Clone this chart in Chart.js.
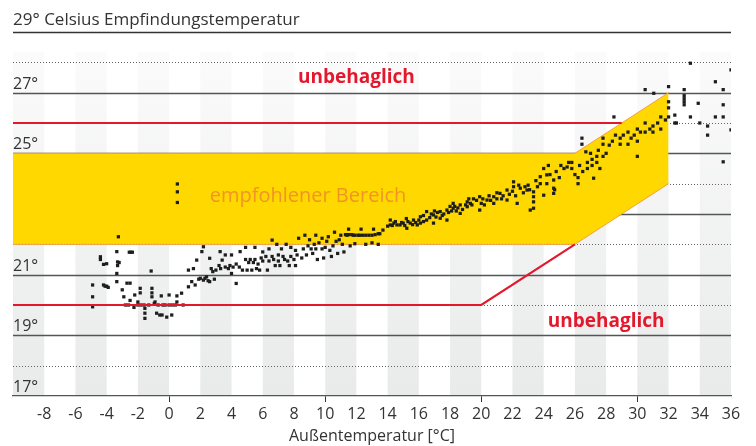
<!DOCTYPE html>
<html lang="de">
<head>
<meta charset="utf-8">
<title>Empfindungstemperatur</title>
<script src="https://cdn.jsdelivr.net/npm/chart.js@4.4.1/dist/chart.umd.min.js"></script>
<style>
  html, body { margin: 0; padding: 0; background: #fff; }
  #wrap { position: relative; width: 756px; height: 446px; }
</style>
</head>
<body>
<div id="wrap"><canvas id="chart"></canvas></div>
<script>
// Messwerte: [Außentemperatur, Empfindungstemperatur] in °C
const readings = [
  [-4.9, 20.66], [-4.9, 20.27], [-4.9, 19.94], [-4.4, 21.59], [-4.4, 21.5], [-4.2, 21.34], [-4.0, 21.36],
  [-4.2, 20.66], [-4.0, 20.62], [-3.9, 20.58], [-3.35, 21.76], [-3.3, 21.42], [-3.3, 21.3], [-3.35, 21.04],
  [-3.25, 22.25], [-2.55, 21.74], [-2.35, 21.74], [-3.35, 20.77], [-2.7, 20.72], [-2.5, 20.72],
  [-3.0, 20.5], [-2.9, 20.27], [-2.8, 20.0], [-2.6, 20.0], [-2.5, 20.15], [-2.2, 20.33], [-2.0, 20.1], [-2.25, 19.92],
  [-1.85, 20.55], [-1.85, 20.4], [-1.55, 19.89], [-1.55, 19.73], [-1.55, 19.56], [-1.15, 21.12],
  [-1.1, 20.55], [-1.1, 20.4], [-1.1, 20.27], [-0.9, 20.1], [-0.8, 19.73], [-0.6, 19.67], [-0.45, 19.67],
  [-0.15, 19.6], [-1.8, 20.0], [-1.3, 20.0], [-0.95, 20.05], [-0.25, 20.0], [0.0, 20.0], [0.0, 20.33],
  [0.17, 19.67], [0.4, 20.0], [-0.5, 20.3],
  [-0.7, 20.0], [-0.4, 20.0], [0.2, 20.0], [-2.0, 20.0], [-1.6, 20.0], [-4.1, 20.62], [-3.2, 21.4], [-2.45, 21.74],
  [0.53, 23.99], [0.53, 23.73], [0.53, 23.38],
  [0.5, 20.1], [0.5, 20.3], [0.8, 20.39], [0.9, 20.0], [1.24, 20.6], [1.24, 21.15], [1.45, 20.77], [1.56, 21.2], [1.67, 20.66], [1.77, 21.48],
  [2.0, 20.88], [2.1, 21.76], [2.2, 21.92], [2.3, 20.88], [2.4, 20.93], [2.6, 20.77], [2.6, 21.54], [2.7, 21.2], [2.9, 20.85],
  [1.9, 20.85], [2.2, 20.82], [2.5, 20.8], [2.8, 21.1], [3.0, 21.15], [3.3, 21.2], [3.8, 21.2], [4.1, 21.25], [4.5, 21.25],
  [3.2, 21.3], [3.27, 21.76], [3.4, 21.48], [3.6, 21.65], [3.6, 21.25], [3.9, 21.3], [4.0, 21.65], [4.0, 21.04], [4.3, 20.71], [4.3, 21.35],
  [4.55, 21.76], [4.7, 21.15], [4.9, 21.5], [4.9, 21.9], [5.0, 21.15], [5.2, 21.5], [5.3, 21.15], [5.5, 21.9], [5.5, 21.5], [5.6, 21.2],
  [5.1, 21.4], [5.4, 21.4], [5.7, 21.35], [6.0, 21.45], [6.4, 21.45], [6.7, 21.5], [7.0, 21.45], [7.4, 21.5], [7.8, 21.6], [8.2, 21.65],
  [5.8, 21.15], [5.9, 21.55], [6.2, 21.6], [6.3, 21.15], [6.6, 22.14], [6.6, 21.6], [6.8, 21.3], [6.9, 22.0], [7.0, 21.65], [7.1, 21.3],
  [7.3, 21.6], [7.5, 22.0], [7.6, 21.45], [7.7, 21.3], [8.0, 21.5], [8.1, 21.3], [8.1, 21.8],
  [6.0, 21.75], [6.4, 21.85], [7.2, 21.85], [7.8, 21.9], [8.6, 21.85],
  [8.3, 22.2], [8.5, 21.55], [8.7, 22.3], [8.8, 21.65], [9.0, 22.15], [9.1, 21.85], [9.2, 21.7], [9.4, 22.3], [9.4, 21.85], [9.5, 21.5],
  [9.8, 22.2], [9.8, 21.85], [9.9, 21.55], [10.2, 22.25], [10.3, 21.8], [10.4, 21.6], [10.6, 22.4], [10.7, 22.1], [10.8, 21.7],
  [8.9, 21.95], [9.3, 22.0], [9.6, 22.05], [10.0, 21.9], [10.1, 22.1], [10.5, 21.95], [10.9, 22.15],
  [11.0, 22.3], [11.1, 22.0], [11.2, 21.75], [11.4, 22.3], [11.5, 22.5], [11.6, 21.95], [11.8, 22.3], [11.9, 22.02], [12.2, 22.3], [12.3, 22.5],
  [12.6, 22.3], [12.6, 22.0], [13.0, 22.3], [13.1, 22.5], [13.0, 22.05], [13.4, 22.35], [13.4, 22.0], [13.7, 22.47],
  [11.3, 22.32], [11.5, 22.32], [11.7, 22.32], [11.9, 22.3], [12.1, 22.3], [12.4, 22.3], [12.8, 22.3], [13.2, 22.32], [13.5, 22.35],
  [14.17, 22.64], [14.17, 22.8], [14.4, 22.7], [14.6, 22.64], [14.8, 22.64], [15.0, 22.7], [15.2, 22.85], [15.23, 22.53], [15.45, 22.7],
  [15.66, 22.8], [15.9, 22.64], [16.1, 22.91], [16.1, 22.7], [16.3, 22.95], [16.5, 22.8], [16.5, 23.08], [16.94, 22.7], [16.94, 22.97], [17.0, 23.1],
  [14.0, 22.6], [14.3, 22.62], [14.5, 22.75], [14.9, 22.72], [15.1, 22.62], [15.3, 22.75], [15.6, 22.65], [15.8, 22.72], [16.0, 22.8],
  [16.3, 22.75], [16.7, 22.88], [16.8, 23.0], [17.1, 22.9], [17.2, 23.05], [17.5, 22.95], [17.9, 23.05],
  [17.37, 23.08], [17.37, 22.86], [17.6, 23.0], [17.8, 23.13], [17.8, 22.8], [18.0, 23.25], [18.2, 23.19], [18.2, 23.35], [18.4, 23.1],
  [18.65, 23.3], [18.65, 23.02], [19.1, 23.4], [19.1, 23.24], [19.3, 23.35], [19.5, 23.5], [19.9, 23.57], [19.9, 23.13], [20.0, 23.35],
  [18.1, 23.1], [18.3, 23.25], [18.5, 23.2], [18.8, 23.15], [19.0, 23.3], [19.2, 23.5], [19.4, 23.3], [19.7, 23.45],
  [20.37, 23.46], [20.5, 23.6], [20.8, 23.57], [20.8, 23.35], [21.0, 23.5], [21.2, 23.68], [21.4, 23.6], [21.65, 23.79], [21.65, 23.46],
  [20.1, 23.5], [20.2, 23.3], [20.6, 23.45], [21.0, 23.7], [21.3, 23.5], [21.8, 23.65], [22.0, 23.75], [22.2, 23.6], [22.4, 23.95],
  [22.07, 23.9], [22.07, 24.06], [22.3, 23.35], [22.5, 23.85], [22.7, 23.7], [22.93, 23.79], [23.0, 23.95], [23.14, 23.13],
  [22.8, 23.9], [23.1, 23.8], [23.5, 24.1], [23.6, 23.9], [24.3, 24.6], [24.8, 24.4], [25.0, 24.2],
  [23.35, 23.73], [23.35, 23.57], [23.35, 23.4], [23.35, 23.19], [23.78, 24.23], [23.78, 24.0], [24.0, 23.62], [24.0, 24.5],
  [24.2, 24.29], [24.2, 24.0], [24.4, 24.3], [24.64, 24.12], [24.64, 23.85], [24.64, 23.68], [24.7, 23.8],
  [25.1, 24.6], [25.3, 24.5], [25.5, 24.55], [25.8, 24.7], [25.8, 24.5], [26.0, 24.3], [26.2, 24.2], [26.2, 24.0],
  [25.6, 24.7], [26.3, 24.6], [26.5, 24.4], [27.0, 25.0], [27.5, 25.1], [28.0, 25.0], [28.4, 25.4], [28.6, 25.6],
  [26.45, 25.3], [26.45, 25.5], [26.7, 25.05], [26.8, 24.5], [26.8, 24.7], [27.1, 24.6], [27.1, 24.8], [27.2, 24.18], [27.4, 24.7], [27.4, 24.9],
  [27.6, 24.5], [27.8, 25.3], [27.8, 25.5], [27.8, 24.9], [28.2, 25.27], [28.5, 26.2], [28.9, 25.3], [28.9, 25.5],
  [29.1, 25.6], [29.8, 25.6], [30.2, 25.7], [30.8, 25.8], [31.3, 26.0], [31.8, 26.1],
  [29.4, 25.3], [29.4, 25.7], [29.6, 25.5], [30.0, 25.4], [30.0, 25.8], [30.0, 24.9], [30.5, 25.7], [30.5, 26.0], [30.5, 27.1],
  [31.0, 25.7], [31.0, 25.9], [31.05, 26.98], [31.5, 25.8], [31.5, 26.2], [32.0, 27.2], [32.0, 26.7], [32.0, 26.5], [32.0, 26.2],
  [32.4, 26.26], [32.4, 26.0], [32.5, 26.0], [33.0, 27.1], [33.0, 26.9], [33.0, 26.8], [33.0, 26.7], [33.0, 26.6], [33.4, 26.2], [33.4, 27.97], [33.9, 26.65],
  [34.0, 26.0], [34.5, 25.9], [34.5, 25.6], [35.0, 27.36], [35.0, 26.2], [35.5, 27.1], [35.5, 26.6], [35.5, 26.2], [35.5, 24.72],
  [36.0, 27.75], [36.0, 25.77]
];

// empfohlener Bereich (Ober- und Unterkante) und Behaglichkeitsgrenzen
const comfortBottom = [[-10, 22], [26, 22], [32, 24]];
const comfortTop = [[-10, 25], [26, 25], [32, 27]];
const upperLimit = [[-10, 26], [29, 26]];
const lowerLimit = [[-10, 20], [20, 20], [26, 22]];

const yLabels = [17, 19, 21, 23, 25, 27];
const xRange = [-10, 36];
const yRange = [17, 29];

const FONT = '"Open Sans", sans-serif';
const RED = '#e3182d';
const toXY = pts => pts.map(([x, y]) => ({ x, y }));

// Hintergrund: graue Streifen, Rasterlinien, Achsbeschriftung links, Titel
const backdrop = {
    id: 'backdrop',
    beforeDraw(chart) {
        const { ctx, chartArea: a, scales: { x, y } } = chart;
        ctx.save();
        const bandTop = y.getPixelForValue(28.35);
        const grad = ctx.createLinearGradient(0, bandTop, 0, a.bottom);
        grad.addColorStop(0, '#fbfbfb');
        grad.addColorStop(1, '#e9eaea');
        ctx.fillStyle = grad;
        for (let v = xRange[0]; v < xRange[1]; v += 4) {
            const l = x.getPixelForValue(v), r = x.getPixelForValue(v + 2);
            ctx.fillRect(l, bandTop, r - l, a.bottom - bandTop);
        }
        for (let v = yRange[0] + 1; v <= yRange[1]; v++) {
            const py = Math.round(y.getPixelForValue(v)) + 0.5;
            ctx.beginPath();
            if (v % 2) {
                ctx.setLineDash([]);
                ctx.strokeStyle = v === yRange[1] ? '#333' : '#555';
                ctx.lineWidth = 1.3;
            } else {
                ctx.setLineDash([1, 2]);
                ctx.strokeStyle = '#666';
                ctx.lineWidth = 1;
            }
            ctx.moveTo(a.left, py);
            ctx.lineTo(a.right, py);
            ctx.stroke();
        }
        ctx.setLineDash([]);
        ctx.fillStyle = '#333';
        ctx.textAlign = 'left';
        ctx.textBaseline = 'alphabetic';
        ctx.font = '16px ' + FONT;
        yLabels.forEach(v => ctx.fillText(v + '°', a.left, y.getPixelForValue(v) - 4));
        ctx.font = '17px ' + FONT;
        ctx.fillText('29° Celsius Empfindungstemperatur', a.left, y.getPixelForValue(yRange[1]) - 7);
        ctx.restore();
    },
    afterDatasetsDraw(chart) {
        const { ctx, scales: { x, y } } = chart;
        ctx.save();
        ctx.textAlign = 'center';
        ctx.textBaseline = 'middle';
        ctx.font = 'bold 19px ' + FONT;
        ctx.fillStyle = RED;
        ctx.fillText('unbehaglich', x.getPixelForValue(12), y.getPixelForValue(27.5));
        ctx.fillText('unbehaglich', x.getPixelForValue(28), y.getPixelForValue(19.45));
        ctx.font = '20px ' + FONT;
        ctx.fillStyle = '#f39325';
        ctx.fillText('empfohlener Bereich', x.getPixelForValue(8.9), y.getPixelForValue(23.6));
        ctx.restore();
    }
};

const lineDefaults = { type: 'line', pointRadius: 0, tension: 0, fill: false };

new Chart(document.getElementById('chart'), {
    type: 'line',
    data: {
        datasets: [
            { ...lineDefaults, label: 'obere Grenze', data: toXY(upperLimit), borderColor: RED, borderWidth: 2.2 },
            { ...lineDefaults, label: 'untere Grenze', data: toXY(lowerLimit), borderColor: RED, borderWidth: 2.2 },
            {
                label: 'Messwerte',
                data: toXY(readings),
                showLine: false,
                pointStyle: 'rect',
                pointRadius: 2.3,
                pointBorderWidth: 0,
                pointBackgroundColor: '#1e1e1e'
            },
            { ...lineDefaults, label: 'Bereich unten', data: toXY(comfortBottom), borderColor: '#f5a03c', borderWidth: 1 },
            {
                ...lineDefaults, label: 'Bereich oben', data: toXY(comfortTop),
                borderColor: '#f5a03c', borderWidth: 1,
                fill: '-1', backgroundColor: '#ffd800'
            }
        ]
    },
    options: {
        responsive: true,
        maintainAspectRatio: false,
        animation: false,
        events: [],
        layout: { padding: { left: 13, right: 25, top: 32, bottom: 0 } },
        plugins: {
            legend: { display: false },
            tooltip: { enabled: false }
        },
        scales: {
            x: {
                type: 'linear',
                min: xRange[0],
                max: xRange[1],
                afterFit: scale => { scale.height = 50; },
                grid: {
                    drawOnChartArea: false,
                    drawTicks: true,
                    tickLength: 6,
                    color: ctx => (ctx.tick && ctx.tick.value % 10 === 0 && ctx.tick.value !== xRange[0]) ? '#333' : 'rgba(0,0,0,0)'
                },
                border: { display: true, color: '#555', width: 1.3 },
                ticks: {
                    stepSize: 2,
                    autoSkip: false,
                    maxRotation: 0,
                    padding: 3,
                    color: '#333',
                    font: { family: FONT, size: 16 },
                    callback: v => v === xRange[0] ? '' : v
                },
                title: {
                    display: true,
                    text: 'Außentemperatur [°C]',
                    color: '#333',
                    font: { family: FONT, size: 16 },
                    padding: { top: 0, bottom: 0 }
                }
            },
            y: {
                type: 'linear',
                display: false,
                min: yRange[0],
                max: yRange[1]
            }
        }
    },
    plugins: [backdrop]
});
</script>
</body>
</html>
